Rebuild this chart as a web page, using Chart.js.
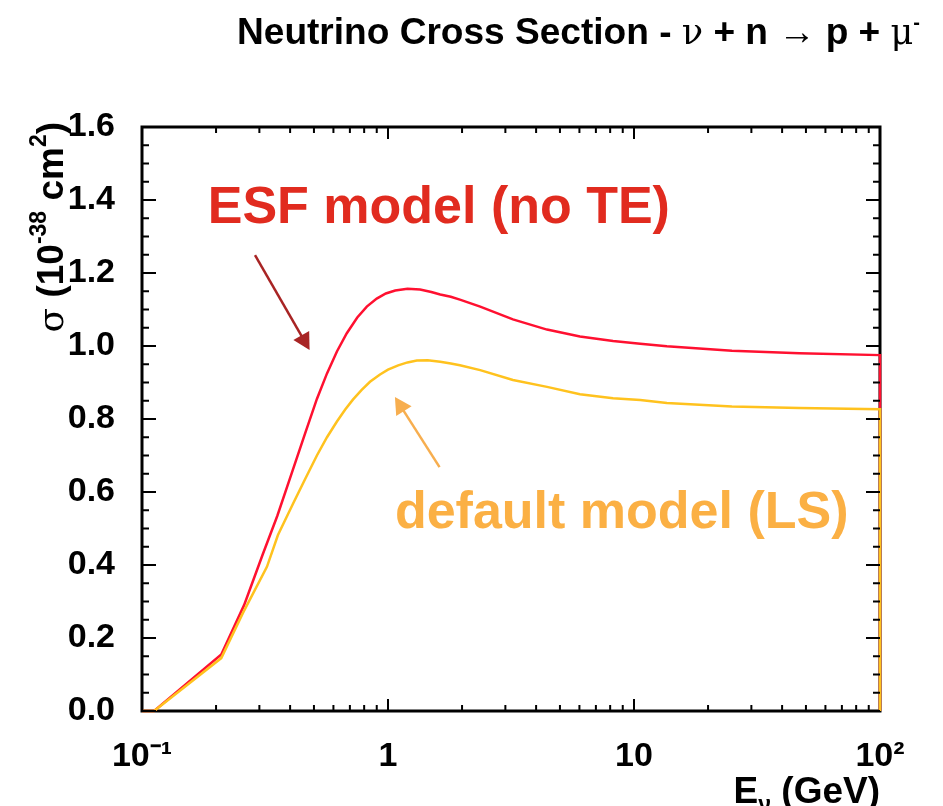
<!DOCTYPE html>
<html>
<head>
<meta charset="utf-8">
<script src="https://cdn.jsdelivr.net/npm/chart.js@4.4.1/dist/chart.umd.min.js"></script>
<style>
  body { margin: 0; background: #fff; }
  #wrap { width: 943px; height: 806px; }
</style>
</head>
<body>
<div id="wrap"><canvas id="graficoSecao" width="943" height="806"></canvas></div>
<script>
// energia (GeV) e secao de choque (10^-38 cm^2)
var esfE     = [0.1, 0.112, 0.21, 0.26, 0.31, 0.355, 0.41, 0.46, 0.514, 0.565, 0.62, 0.68, 0.75, 0.82, 0.9, 0.98, 1.07, 1.2, 1.35, 1.5, 1.63, 1.8, 1.96, 2.37, 3.22, 4.43, 6.03, 8.22, 10.6, 13.6, 25, 47, 100, 100];
var esfSigma = [0, 0, 0.155, 0.29, 0.43, 0.535, 0.66, 0.76, 0.855, 0.925, 0.985, 1.035, 1.078, 1.108, 1.13, 1.144, 1.152, 1.157, 1.155, 1.148, 1.141, 1.135, 1.127, 1.108, 1.073, 1.045, 1.026, 1.014, 1.006, 0.999, 0.987, 0.98, 0.975, 0];

var lsE     = [0.1, 0.112, 0.21, 0.257, 0.322, 0.357, 0.411, 0.46, 0.514, 0.565, 0.62, 0.67, 0.72, 0.78, 0.845, 0.928, 1.0, 1.1, 1.2, 1.31, 1.45, 1.63, 1.8, 1.96, 2.37, 3.22, 4.43, 6.03, 8.22, 10.6, 13.6, 25, 47, 100, 100];
var lsSigma = [0, 0, 0.145, 0.268, 0.395, 0.482, 0.568, 0.635, 0.7, 0.75, 0.793, 0.826, 0.853, 0.879, 0.902, 0.922, 0.935, 0.947, 0.955, 0.96, 0.961, 0.957, 0.952, 0.947, 0.934, 0.907, 0.888, 0.868, 0.857, 0.852, 0.844, 0.834, 0.83, 0.827, 0];

var energiaTicks = [0.1, 1, 10, 100];
var energiaLabels = ['10\u207B\u00B9', '1', '10', '10\u00B2'];

// anotacoes em coordenadas de dados: [E, sigma]
var textoESF = 'ESF model (no TE)';
var posTextoESF = [0.185, 1.337];
var setaESF = [[0.288, 1.249], [0.48, 0.989]];
var textoLS = 'default model (LS)';
var posTextoLS = [1.067, 0.501];
var setaLS = [[1.62, 0.668], [1.067, 0.86]];

var FONTE = '"Liberation Sans", Arial, sans-serif';

function pontos(xs, ys) {
	return xs.map(function(x, i) { return { x: x, y: ys[i] }; });
}

var molduraTicks = {
	id: 'molduraTicks',
	beforeDatasetsDraw: function(chart) {
		var a = chart.chartArea, ctx = chart.ctx;
		ctx.save();
		ctx.strokeStyle = '#000';
		ctx.lineWidth = 3;
		ctx.strokeRect(a.left, a.top, a.right - a.left, a.bottom - a.top);
		ctx.restore();
	},
	afterDatasetsDraw: function(chart) {
		var a = chart.chartArea, ctx = chart.ctx;
		var sx = chart.scales.x, sy = chart.scales.y;
		ctx.save();
		ctx.strokeStyle = '#000';
		ctx.lineWidth = 2;
		ctx.beginPath();
		// ticks do eixo x (log), em baixo e em cima
		for (var d = -1; d < 2; d++) {
			for (var k = 1; k < 10; k++) {
				var v = k * Math.pow(10, d);
				var px = sx.getPixelForValue(v);
				var len = k === 1 ? 12 : 6;
				ctx.moveTo(px, a.bottom); ctx.lineTo(px, a.bottom - len);
				ctx.moveTo(px, a.top); ctx.lineTo(px, a.top + len);
			}
		}
		// ticks do eixo y, esquerda e direita
		for (var i = 0; i <= 32; i++) {
			var py = sy.getPixelForValue(i * 0.05);
			var l = (i % 4 === 0) ? 14 : 7;
			ctx.moveTo(a.left, py); ctx.lineTo(a.left + l, py);
			ctx.moveTo(a.right, py); ctx.lineTo(a.right - l, py);
		}
		ctx.stroke();
		ctx.restore();
	}
};

function seta(ctx, x1, y1, x2, y2, cor) {
	var ang = Math.atan2(y2 - y1, x2 - x1);
	var h = 19;
	ctx.save();
	ctx.strokeStyle = cor;
	ctx.fillStyle = cor;
	ctx.lineWidth = 2.5;
	ctx.beginPath();
	ctx.moveTo(x1, y1);
	ctx.lineTo(x2 - Math.cos(ang) * h * 0.7, y2 - Math.sin(ang) * h * 0.7);
	ctx.stroke();
	ctx.beginPath();
	ctx.moveTo(x2, y2);
	ctx.lineTo(x2 - h * Math.cos(ang - 0.5), y2 - h * Math.sin(ang - 0.5));
	ctx.lineTo(x2 - h * Math.cos(ang + 0.5), y2 - h * Math.sin(ang + 0.5));
	ctx.closePath();
	ctx.fill();
	ctx.restore();
}

// desenha pedacos de texto em sequencia: [texto, fonte, deslocamento vertical]
function pedacos(ctx, lista, x, y) {
	lista.forEach(function(p) {
		ctx.font = p[1];
		ctx.fillText(p[0], x, y + (p[2] || 0));
		x += ctx.measureText(p[0]).width;
	});
	return x;
}

function larguraPedacos(ctx, lista) {
	var w = 0;
	lista.forEach(function(p) { ctx.font = p[1]; w += ctx.measureText(p[0]).width; });
	return w;
}

var anotacoes = {
	id: 'anotacoes',
	afterDraw: function(chart) {
		var ctx = chart.ctx, sx = chart.scales.x, sy = chart.scales.y;
		var a = chart.chartArea;
		function px(p) { return [sx.getPixelForValue(p[0]), sy.getPixelForValue(p[1])]; }

		ctx.save();
		ctx.textAlign = 'left';
		ctx.textBaseline = 'alphabetic';

		// textos dos modelos
		var t = px(posTextoESF);
		ctx.fillStyle = '#e12b1f';
		ctx.font = 'bold 52px ' + FONTE;
		ctx.fillText(textoESF, t[0], t[1]);
		var s1 = px(setaESF[0]), s2 = px(setaESF[1]);
		seta(ctx, s1[0], s1[1], s2[0], s2[1], '#a82424');

		t = px(posTextoLS);
		ctx.fillStyle = '#fbb044';
		ctx.font = 'bold 52px ' + FONTE;
		ctx.fillText(textoLS, t[0], t[1]);
		s1 = px(setaLS[0]); s2 = px(setaLS[1]);
		seta(ctx, s1[0], s1[1], s2[0], s2[1], '#f7ae4f');

		// titulo
		ctx.fillStyle = '#000';
		var bold = 'bold 37px ' + FONTE;
		var simb = '35px "DejaVu Serif", serif';
		var titulo = [
			['Neutrino Cross Section - ', bold],
			['\u03BD', simb],
			[' + n \u2192 p + ', bold],
			['\u03BC', simb],
			['-', 'bold 20px ' + FONTE, -15]
		];
		var wt = larguraPedacos(ctx, titulo);
		var alvo = 683;
		ctx.save();
		ctx.translate(237, 44);
		ctx.scale(alvo / wt, 1);
		pedacos(ctx, titulo, 0, 0);
		ctx.restore();

		// titulo do eixo y (vertical)
		var yt = [
			['\u03C3', '36px "DejaVu Serif", serif'],
			[' (10', 'bold 37px ' + FONTE],
			['-38', 'bold 23px ' + FONTE, -17],
			[' cm', 'bold 37px ' + FONTE],
			['2', 'bold 23px ' + FONTE, -17],
			[')', 'bold 37px ' + FONTE]
		];
		var wy = larguraPedacos(ctx, yt);
		ctx.save();
		ctx.translate(63, 122 + wy);
		ctx.rotate(-Math.PI / 2);
		pedacos(ctx, yt, 0, 0);
		ctx.restore();

		// titulo do eixo x
		var xt = [
			['E', 'bold 37px ' + FONTE],
			['\u03BD', 'bold 23px ' + FONTE, 9],
			[' (GeV)', 'bold 37px ' + FONTE]
		];
		var wx = larguraPedacos(ctx, xt);
		pedacos(ctx, xt, a.right - wx, 803);

		ctx.restore();
	}
};

var grafico = new Chart(document.getElementById('graficoSecao').getContext('2d'), {
	type: 'line',
	data: {
		datasets: [{
			label: 'default model (LS)',
			data: pontos(lsE, lsSigma),
			borderColor: '#ffc21e',
			borderWidth: 2.5,
			pointRadius: 0,
			tension: 0,
			clip: 4
		}, {
			label: 'ESF model (no TE)',
			data: pontos(esfE, esfSigma),
			borderColor: '#ff1030',
			borderWidth: 2.5,
			pointRadius: 0,
			tension: 0,
			clip: 4
		}]
	},
	options: {
		responsive: false,
		animation: false,
		layout: { padding: { left: 0, right: 63, top: 127, bottom: 35 } },
		plugins: {
			legend: { display: false },
			tooltip: { enabled: false },
			title: { display: false }
		},
		scales: {
			x: {
				type: 'logarithmic',
				min: 0.1,
				max: 100,
				grid: { display: false },
				border: { display: false },
				afterBuildTicks: function(s) {
					s.ticks = energiaTicks.map(function(v) { return { value: v }; });
				},
				afterFit: function(s) { s.height = 60; },
				ticks: {
					autoSkip: false,
					maxRotation: 0,
					padding: 17,
					color: '#000',
					font: { family: FONTE, size: 34, weight: 'bold' },
					callback: function(v, i) { return energiaLabels[i]; }
				}
			},
			y: {
				min: 0,
				max: 1.6,
				grid: { display: false },
				border: { display: false },
				afterFit: function(s) { s.width = 142; },
				ticks: {
					stepSize: 0.2,
					padding: 19,
					color: '#000',
					font: { family: FONTE, size: 34, weight: 'bold' },
					callback: function(v) { return v.toFixed(1); }
				}
			}
		}
	},
	plugins: [molduraTicks, anotacoes]
});
</script>
</body>
</html>
